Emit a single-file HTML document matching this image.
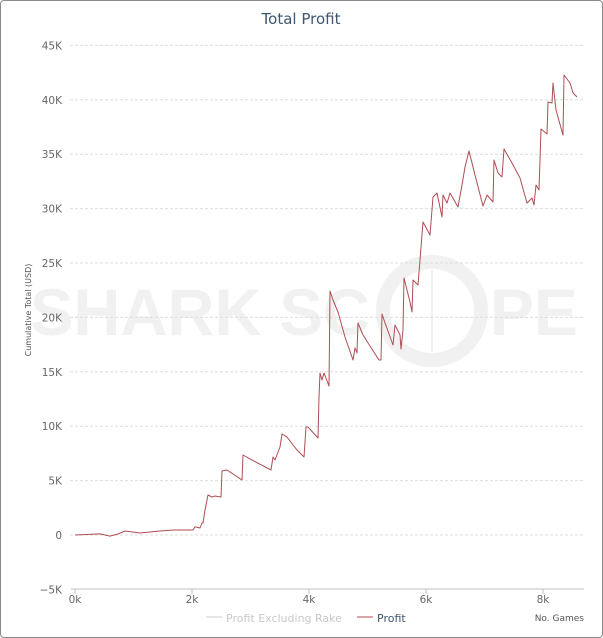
<!DOCTYPE html>
<html><head><meta charset="utf-8"><style>
html,body{margin:0;padding:0;background:#fff;}
body{width:603px;height:638px;overflow:hidden;font-family:"DejaVu Sans","Liberation Sans",sans-serif;}
#frame{position:absolute;left:0;top:0;width:601px;height:636px;border:1px solid #8a8a8a;border-radius:4px;}
svg{position:absolute;left:0;top:0;font-family:"DejaVu Sans","Liberation Sans",sans-serif;}
</style></head><body>
<div id="frame"></div>
<svg id="chart" width="603" height="638">
<g fill="#f1f1f1" font-family="Liberation Sans, sans-serif" font-weight="bold" font-size="66">
<text x="30" y="335" textLength="340" lengthAdjust="spacingAndGlyphs">SHARK SC</text>
<circle cx="432" cy="311" r="49" fill="none" stroke="#f1f1f1" stroke-width="14"/>
<line x1="432" y1="270" x2="432" y2="352" stroke="#f1f1f1" stroke-width="2"/>
<text x="490" y="335" textLength="88" lengthAdjust="spacingAndGlyphs">PE</text>
</g>
<g id="grid"></g>
<g id="axes"></g>
<path id="line" fill="none" stroke="#ad4e53" stroke-width="1" stroke-linejoin="round"/>
<text x="301" y="24" text-anchor="middle" font-size="15" fill="#3e576f">Total Profit</text>
<text transform="translate(31,310) rotate(-90)" text-anchor="middle" font-size="8" fill="#555">Cumulative Total (USD)</text>
<text x="584" y="621" text-anchor="end" font-size="9" fill="#555">No. Games</text>
<g>
<line x1="206" y1="617" x2="222" y2="617" stroke="#ccc" stroke-width="1"/>
<text x="226" y="622" font-size="11" fill="#c8c8c8">Profit Excluding Rake</text>
</g>
<g>
<line x1="357" y1="617" x2="373" y2="617" stroke="#ad4e53" stroke-width="1"/>
<text x="377" y="622" font-size="11" fill="#3e576f">Profit</text>
</g>
</svg>
<script>
const yTicks=[-5,0,5,10,15,20,25,30,35,40,45];
const xTicks=[0,2000,4000,6000,8000];
const games=[0,427,598,735,855,1111,1453,1675,2017,2051,2137,2171,2188,2222,2274,2342,2393,2496,2513,2598,2855,2872,2991,3350,3385,3419,3504,3538,3624,3795,3915,3949,3983,4154,4171,4188,4222,4256,4342,4359,4410,4496,4615,4752,4786,4821,4838,4923,5162,5197,5231,5248,5299,5436,5470,5556,5573,5607,5624,5726,5761,5778,5863,5897,5949,6068,6120,6188,6274,6291,6359,6410,6547,6615,6667,6735,6838,6974,7043,7145,7162,7231,7299,7333,7470,7607,7726,7812,7846,7880,7932,7966,8068,8085,8154,8171,8222,8342,8359,8462,8513,8581];
const profit=[0,0.1,-0.1,0.09,0.37,0.18,0.37,0.46,0.46,0.74,0.64,1.1,1.1,2.3,3.68,3.49,3.58,3.49,5.88,5.97,5.06,7.35,6.99,5.97,7.17,6.89,8.09,9.28,9.0,7.81,7.17,9.93,9.93,8.92,12.68,14.89,14.25,14.89,13.69,22.43,21.6,20.5,18.2,16.08,17.19,16.73,19.49,18.38,16.36,16.08,16.08,20.31,19.49,17.46,19.3,18.38,17.1,18.84,23.62,21.42,20.5,23.44,22.98,25.28,28.77,27.57,31.07,31.43,29.23,31.25,30.51,31.43,30.15,32.17,33.82,35.29,33.09,30.24,31.25,30.61,34.47,33.27,32.9,35.48,34.19,32.81,30.51,30.97,30.33,32.17,31.71,37.32,36.86,39.8,39.71,41.54,39.06,36.76,42.28,41.54,40.63,40.26];
const X0=75,XW=58.5/1000,Y0=535,YK=10.88;
const sx=v=>X0+v*XW, sy=v=>Y0-v*YK;
const NS='http://www.w3.org/2000/svg';
const grid=document.getElementById('grid'),axes=document.getElementById('axes');
function mk(t,a,p){const e=document.createElementNS(NS,t);for(const k in a)e.setAttribute(k,a[k]);p.appendChild(e);return e;}
yTicks.forEach(v=>{
 if(v>-5){const l=mk('line',{x1:70,x2:584,y1:sy(v),y2:sy(v),stroke:'#ddd','stroke-dasharray':'3,2'},grid);
 
 }
 const t=mk('text',{x:62,y:sy(v)+4,'text-anchor':'end','font-size':'10.5',fill:'#666'},axes);
 t.textContent=v===0?'0':(v<0?'\u2212'+(-v)+'K':v+'K');
 
 
});
const base=mk('line',{x1:71,x2:584,y1:589,y2:589,stroke:'#c0c0c0'},axes);


xTicks.forEach(v=>{
 const tk=mk('line',{x1:sx(v),x2:sx(v),y1:589,y2:594,stroke:'#c0c0c0'},axes);
 
 
 const t=mk('text',{x:sx(v),y:603,'text-anchor':'middle','font-size':'10.5',fill:'#666'},axes);
 t.textContent=(v/1000)+'k';
 
 
});
document.getElementById('line').setAttribute('d',games.map((g,i)=>(i?'L':'M')+sx(g).toFixed(1)+','+sy(profit[i]).toFixed(1)).join(''));
</script>
</body></html>
